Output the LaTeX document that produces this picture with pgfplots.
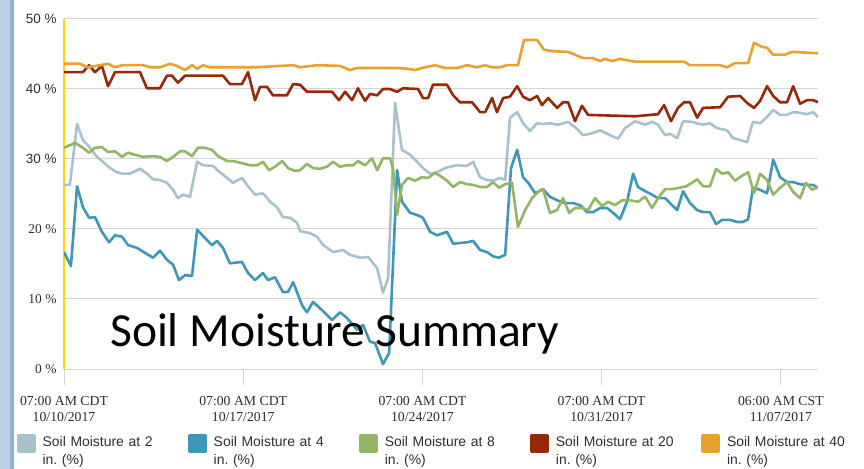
\documentclass[border=0pt]{standalone}
\usepackage{fontspec}
\setmainfont{Liberation Serif}
\newfontfamily\sansf{Liberation Sans}
\newfontfamily\serf{Liberation Serif}
\newfontfamily\titlef{Carlito}
\usepackage{pgfplots}
\pgfplotsset{compat=1.18}
\definecolor{c2}{RGB}{168,194,204}
\definecolor{c4}{RGB}{62,151,182}
\definecolor{c8}{RGB}{146,182,100}
\definecolor{c20}{RGB}{150,40,8}
\definecolor{c40}{RGB}{232,161,46}
\definecolor{gridc}{RGB}{212,212,212}
\definecolor{ylw}{RGB}{255,212,0}
\definecolor{stripL}{RGB}{188,207,230}
\definecolor{stripD}{RGB}{150,176,212}
\definecolor{txt}{RGB}{45,45,45}
\newcommand{\ylab}[2]{\mbox{#1\fontsize{13.5}{15}\selectfont #2 \%}}
\begin{document}
\begin{tikzpicture}
\path[use as bounding box] (0,0) rectangle (864bp,469bp);
\fill[stripL] (0,0) rectangle (10bp,469bp);
\fill[stripD] (10bp,0) rectangle (13.5bp,469bp);
\begin{axis}[
  at={(64bp,100bp)}, anchor=south west,
  scale only axis, width=754bp, height=350bp,
  xmin=0, xmax=29.45, ymin=0, ymax=50,
  axis lines=left, axis line style={-},
  x axis line style={draw=gridc, line width=1bp},
  y axis line style={draw=ylw, line width=1.2bp},
  ymajorgrids, grid style={gridc, line width=1bp},
  tick align=outside, major tick length=16bp,
  xtick={0,7,14,21,28},
  xticklabels={{07:00 AM CDT\\10/10/2017},{07:00 AM CDT\\10/17/2017},{07:00 AM CDT\\10/24/2017},{07:00 AM CDT\\10/31/2017},{06:00 AM CST\\11/07/2017}},
  xticklabel style={align=center, font=\serf\fontsize{13.8}{15.5}\selectfont, text=txt, yshift=-8bp},
  xtick style={draw=gridc, line width=1bp},
  ytick={0,10,20,30,40,50},
  yticklabels={{\ylab{\serf}{0}},{\ylab{\serf}{10}},{\ylab{\serf}{20}},{\ylab{\sansf}{30}},{\ylab{\sansf}{40}},{\ylab{\sansf}{50}}},
  yticklabel style={text=txt, xshift=12bp},
  ytick style={draw=none},
  legend columns=5,
  legend style={at={(-0.0623,-0.186)}, anchor=north west, draw=none, fill=none,
    inner sep=0pt, outer sep=0pt, font=\sansf\fontsize{14}{17.5}\selectfont, text=txt,
    column sep=7bp, nodes={inner sep=0pt, text width=140bp, align=left},
    /tikz/every even column/.append style={column sep=5.5bp}},
  legend cell align=left,
  legend image code/.code={\fill (0bp,-9bp) rectangle (16bp,7bp);},
  every axis plot/.append style={line width=2.6bp, line join=round},
]
\addplot[color=c2] coordinates {
(0,26.3)(0.23,26.3)(0.51,35.0)(0.74,32.7)(1.02,31.6)(1.29,30.3)(1.52,29.6)(1.80,28.7)(2.07,28.1)(2.30,27.9)
(2.58,27.9)(2.97,28.6)(3.24,27.9)(3.48,27.1)(3.75,27.0)(4.02,26.6)(4.26,25.6)(4.45,24.4)(4.65,24.9)(4.92,24.6)
(5.20,29.6)(5.43,29.1)(5.82,29.0)(6.09,28.1)(6.37,27.3)(6.60,26.6)(6.95,27.3)(7.19,26.1)(7.46,24.9)(7.77,25.1)
(8.05,23.9)(8.32,23.1)(8.55,21.7)(8.83,21.6)(9.10,20.9)(9.22,19.7)(9.61,19.4)(9.88,18.9)(10.12,17.7)(10.51,16.7)
(10.90,17.0)(11.17,16.3)(11.56,15.9)(11.88,16.0)(12.23,14.4)(12.46,10.9)(12.66,13.0)(12.93,38.0)(13.20,31.3)(13.52,30.6)
(13.79,29.6)(14.02,28.7)(14.30,27.9)(14.57,28.1)(14.88,28.7)(15.08,28.9)(15.35,29.1)(15.74,29.0)(15.98,29.6)(16.25,27.4)
(16.52,27.0)(16.76,26.9)(17.03,27.3)(17.23,27.0)(17.42,35.9)(17.70,36.7)(17.93,35.1)(18.20,34.0)(18.48,35.1)(18.71,35.0)
(18.98,35.1)(19.30,34.9)(19.69,35.3)(20.04,34.3)(20.27,33.4)(20.55,33.6)(20.94,34.1)(21.33,33.4)(21.64,32.9)(21.91,34.4)
(22.30,35.4)(22.70,34.9)(22.97,35.3)(23.20,34.9)(23.48,33.4)(23.67,33.6)(23.95,33.0)(24.18,35.4)(24.53,35.3)(24.73,35.1)
(24.96,34.9)(25.23,35.1)(25.51,34.4)(25.90,34.1)(26.13,33.0)(26.41,32.7)(26.68,32.4)(26.91,35.3)(27.19,35.1)(27.46,36.0)
(27.70,37.0)(27.97,36.3)(28.24,36.3)(28.48,36.7)(28.75,36.6)(29.02,36.4)(29.26,36.7)(29.45,36.0)
};
\addlegendentry{Soil Moisture at 2\\in.\ (\%)}
\addplot[color=c4] coordinates {
(0,16.7)(0.27,14.7)(0.51,26.1)(0.74,23.1)(0.98,21.6)(1.21,21.7)(1.48,19.6)(1.76,18.1)(1.99,19.1)(2.27,18.9)
(2.50,17.7)(2.85,17.3)(3.16,16.6)(3.48,15.9)(3.75,16.9)(4.02,15.6)(4.26,14.9)(4.49,12.7)(4.73,13.4)(5.00,13.3)
(5.20,19.9)(5.51,18.7)(5.78,17.7)(5.98,18.3)(6.21,17.3)(6.48,15.1)(6.95,15.3)(7.19,13.7)(7.46,12.7)(7.77,13.7)
(7.97,12.7)(8.24,13.1)(8.55,11.0)(8.75,11.0)(8.95,12.4)(9.30,9.1)(9.49,8.1)(9.73,9.6)(10.08,8.4)(10.47,7.0)
(10.78,8.1)(11.05,7.3)(11.45,5.6)(11.68,6.3)(11.95,3.9)(12.15,3.7)(12.46,0.7)(12.70,2.3)(13.01,28.4)(13.20,23.9)
(13.52,22.3)(13.79,22.0)(14.02,21.6)(14.30,19.6)(14.57,19.1)(14.96,19.6)(15.20,17.9)(15.47,18.0)(15.74,18.1)(15.98,18.3)
(16.25,17.0)(16.52,16.7)(16.76,16.1)(16.99,15.9)(17.23,16.3)(17.46,28.7)(17.70,31.3)(17.93,27.4)(18.13,26.6)(18.40,25.1)
(18.71,25.7)(18.98,24.6)(19.26,24.1)(19.57,23.7)(19.88,23.7)(20.16,23.4)(20.43,22.4)(20.66,22.4)(20.94,23.0)(21.21,23.0)
(21.45,22.3)(21.72,21.4)(21.99,23.9)(22.23,27.9)(22.42,26.0)(22.70,25.4)(22.97,24.9)(23.20,24.4)(23.48,24.4)(23.75,23.4)
(23.95,22.7)(24.18,25.4)(24.45,23.7)(24.73,22.7)(24.96,22.4)(25.23,22.4)(25.47,20.7)(25.70,21.3)(26.02,21.3)(26.29,21.0)
(26.52,21.0)(26.72,21.4)(26.91,25.9)(27.19,25.6)(27.46,25.1)(27.70,29.9)(27.97,27.4)(28.24,26.7)(28.48,26.7)(28.75,26.4)
(29.02,26.3)(29.26,26.3)(29.45,25.9)
};
\addlegendentry{Soil Moisture at 4\\in.\ (\%)}
\addplot[color=c8] coordinates {
(0,31.6)(0.43,32.3)(0.70,31.7)(0.98,30.9)(1.21,31.6)(1.48,31.7)(1.72,31.0)(1.99,31.1)(2.27,30.3)(2.50,30.9)
(2.77,30.6)(3.09,30.3)(3.44,30.4)(3.75,30.3)(4.02,29.7)(4.26,30.3)(4.53,31.1)(4.73,31.1)(5.00,30.4)(5.23,31.6)
(5.51,31.6)(5.78,31.3)(6.02,30.4)(6.37,29.7)(6.60,29.7)(6.95,29.4)(7.27,29.1)(7.54,29.1)(7.77,29.6)(8.01,28.4)
(8.28,29.0)(8.52,29.7)(8.75,28.7)(9.02,28.3)(9.22,28.4)(9.49,29.3)(9.73,28.7)(10.0,28.6)(10.27,28.9)(10.51,29.6)
(10.78,28.9)(11.05,29.1)(11.29,29.1)(11.48,29.7)(11.76,29.1)(12.03,30.1)(12.23,28.4)(12.46,30.1)(12.73,30.1)(12.85,28.7)
(13.01,22.0)(13.20,26.3)(13.44,27.3)(13.71,26.9)(13.98,27.4)(14.22,27.3)(14.49,28.0)(14.69,27.6)(14.96,26.9)(15.20,26.0)
(15.47,26.7)(15.74,26.4)(15.98,26.3)(16.25,26.0)(16.52,26.0)(16.76,26.7)(16.99,25.9)(17.23,26.4)(17.50,26.6)(17.73,20.3)
(18.01,22.7)(18.28,24.4)(18.52,25.3)(18.71,25.7)(18.98,22.3)(19.26,22.7)(19.49,24.4)(19.73,22.3)(19.96,23.0)(20.23,23.0)
(20.47,22.7)(20.74,24.4)(21.02,23.3)(21.25,23.9)(21.52,23.4)(21.80,24.1)(22.11,24.1)(22.42,23.9)(22.70,24.6)(22.97,23.0)
(23.20,24.4)(23.48,25.7)(23.75,25.7)(24.06,25.9)(24.30,26.1)(24.53,26.6)(24.73,27.1)(24.96,26.1)(25.23,26.1)(25.47,28.6)
(25.70,27.9)(25.94,28.1)(26.21,26.9)(26.48,27.6)(26.72,28.1)(26.95,25.1)(27.19,27.9)(27.46,27.0)(27.70,24.9)(27.97,25.9)
(28.24,26.7)(28.48,25.3)(28.75,24.4)(28.98,26.6)(29.22,25.6)(29.45,26.0)
};
\addlegendentry{Soil Moisture at 8\\in.\ (\%)}
\addplot[color=c20] coordinates {
(0,42.4)(0.74,42.4)(0.98,43.4)(1.21,42.4)(1.48,43.3)(1.72,40.4)(1.99,42.4)(2.97,42.4)(3.24,40.1)(3.75,40.1)
(4.02,41.9)(4.22,41.9)(4.45,40.9)(4.73,41.9)(6.21,41.9)(6.48,40.7)(6.95,40.7)(7.19,42.4)(7.46,38.4)(7.66,40.3)
(7.93,40.3)(8.16,39.1)(8.71,39.1)(8.95,40.7)(9.22,40.6)(9.49,39.6)(10.47,39.6)(10.74,38.4)(10.98,39.6)(11.25,38.4)
(11.48,40.1)(11.76,38.3)(11.95,39.3)(12.23,39.1)(12.46,40.0)(12.73,40.0)(13.01,39.6)(13.24,40.1)(13.83,40.0)(14.02,38.7)
(14.22,38.7)(14.41,40.6)(14.96,40.6)(15.20,39.1)(15.47,38.1)(15.94,38.1)(16.25,36.7)(16.45,36.7)(16.72,38.7)(16.91,36.7)
(17.15,38.7)(17.42,38.9)(17.70,40.4)(17.93,38.9)(18.20,38.4)(18.48,39.0)(18.67,37.7)(18.91,38.7)(19.26,37.3)(19.49,38.1)
(19.69,38.1)(19.96,35.4)(20.23,37.6)(20.47,36.3)(22.30,36.1)(23.20,36.4)(23.44,37.7)(23.71,35.4)(23.98,37.3)(24.22,38.1)
(24.45,38.1)(24.73,35.9)(24.96,37.3)(25.63,37.4)(25.94,38.9)(26.41,39.0)(26.68,38.0)(26.95,37.3)(27.19,38.3)(27.46,40.4)
(27.70,39.0)(27.97,38.1)(28.24,38.1)(28.48,40.4)(28.75,37.9)(29.02,38.4)(29.26,38.4)(29.45,38.1)
};
\addlegendentry{Soil Moisture at 20\\in.\ (\%)}
\addplot[color=c40] coordinates {
(0,43.6)(0.63,43.6)(0.90,43.1)(1.41,43.4)(1.72,43.6)(1.99,43.1)(2.27,43.4)(3.09,43.4)(3.36,43.1)(3.75,43.1)
(4.14,43.6)(4.41,43.3)(4.73,42.7)(5.00,43.4)(5.20,42.9)(5.43,43.4)(5.70,43.1)(7.46,43.1)(8.95,43.4)(9.22,43.1)
(9.88,43.4)(10.78,43.3)(11.17,42.7)(11.45,43.0)(13.01,43.0)(13.40,42.9)(13.71,42.7)(13.98,43.0)(14.49,43.4)(14.88,43.0)
(15.35,43.0)(15.74,43.4)(16.13,43.1)(16.45,43.4)(16.72,43.1)(17.03,43.1)(17.30,43.4)(17.73,43.4)(17.97,47.0)(18.48,47.0)
(18.75,45.6)(19.10,45.4)(19.69,45.3)(19.96,44.9)(20.27,44.4)(20.66,44.4)(20.94,44.0)(21.13,44.3)(21.41,44.0)(21.72,44.3)
(22.30,43.9)(24.22,43.9)(24.45,43.4)(25.63,43.4)(25.90,43.1)(26.21,43.7)(26.72,43.7)(26.95,46.6)(27.27,46.0)(27.46,45.9)
(27.70,44.9)(28.16,44.9)(28.44,45.3)(29.45,45.1)
};
\addlegendentry{Soil Moisture at 40\\in.\ (\%)}
\end{axis}
\node[anchor=base west, inner sep=0pt, font=\titlef\fontsize{47.7}{52}\selectfont] at (110bp,122bp) {Soil Moisture Summary};
\end{tikzpicture}
\end{document}
